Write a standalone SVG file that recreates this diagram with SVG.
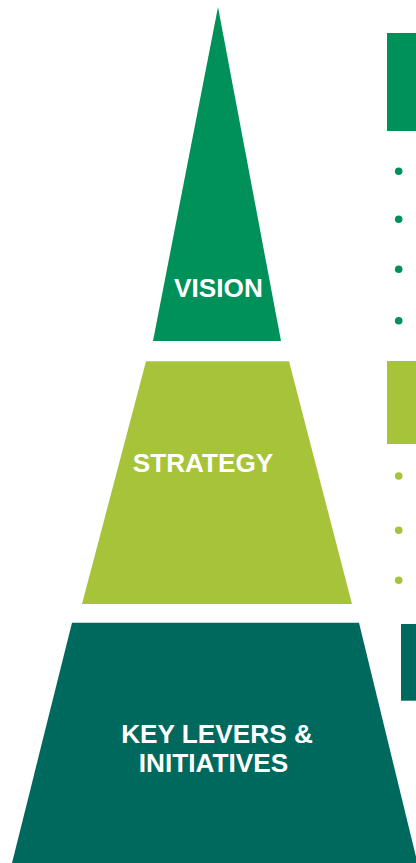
<svg xmlns="http://www.w3.org/2000/svg" width="416" height="863" viewBox="0 0 416 863">
<style>
.lbl{font-family:"Liberation Sans",Arial,sans-serif;font-weight:bold;font-size:26.2px;fill:#ffffff;text-anchor:middle}
.g{fill:#00905A}
.l{fill:#A6C33A}
.t{fill:#00695E}
</style>
<rect width="416" height="863" fill="#ffffff"/>
<g id="vision">
<polygon class="g" points="218,7 281,341 153,341"/>
<text class="lbl" x="218.5" y="297">VISION</text>
</g>
<g id="strategy">
<polygon class="l" points="146,361.3 289,361.3 352,604 82,604"/>
<text class="lbl" x="203" y="471.7">STRATEGY</text>
</g>
<g id="key-levers">
<polygon class="t" points="72,622.7 359,622.7 417.5,863 12,863"/>
<text class="lbl" x="217" y="743">KEY LEVERS &amp;</text>
<text class="lbl" x="213.5" y="772">INITIATIVES</text>
</g>
<g id="vision-panel">
<rect class="g" x="387" y="33" width="30" height="98"/>
<circle class="g" cx="398.7" cy="171.3" r="3.8"/>
<circle class="g" cx="398.7" cy="219.3" r="3.8"/>
<circle class="g" cx="398.7" cy="269.3" r="3.8"/>
<circle class="g" cx="398.7" cy="320.7" r="3.8"/>
</g>
<g id="strategy-panel">
<rect class="l" x="387" y="361" width="30" height="83"/>
<circle class="l" cx="398.7" cy="476" r="3.8"/>
<circle class="l" cx="398.7" cy="530.3" r="3.8"/>
<circle class="l" cx="398.7" cy="580.3" r="3.8"/>
</g>
<g id="levers-panel">
<rect class="t" x="401" y="624" width="16" height="76.7"/>
</g>
</svg>
